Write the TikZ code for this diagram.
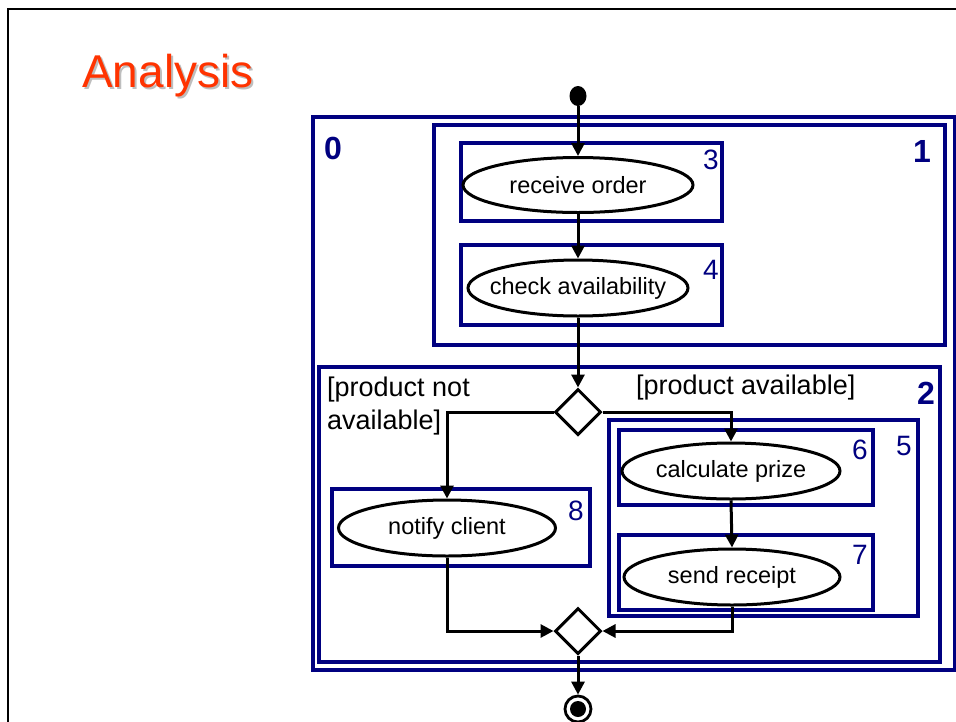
\documentclass[tikz,border=0pt]{standalone}
\usepackage{fontspec}
\setmainfont{Liberation Sans}
\usetikzlibrary{arrows.meta,shapes.geometric,calc}
\definecolor{navyb}{RGB}{0,0,128}
\definecolor{titlered}{RGB}{255,51,0}
\definecolor{shadowgray}{RGB}{190,190,190}
\tikzset{
  box/.style={draw=navyb, line width=3.2pt, rectangle, inner sep=0pt},
  act/.style={draw=black, line width=3pt, ellipse, inner sep=0pt, font=\fontsize{23.5}{27}\selectfont},
  num/.style={text=navyb, inner sep=0pt, font=\fontsize{28}{32}\selectfont},
  bnum/.style={text=navyb, inner sep=0pt, font=\bfseries\fontsize{32}{36}\selectfont},
  guard/.style={inner sep=0pt, font=\fontsize{27}{33}\selectfont, align=left},
  dec/.style={draw=black, line width=3pt, diamond, fill=white, minimum width=46pt, minimum height=46pt, inner sep=0pt},
  flow/.style={draw=black, line width=3pt, -{Triangle[length=13pt,width=13pt]}},
}
\newcommand{\actlabel}[1]{\makebox[0pt]{#1}}
\begin{document}
\begin{tikzpicture}[x=1pt,y=-1pt]
\useasboundingbox (0,0) rectangle (956,721);
\fill[white] (0,0) rectangle (956,721);
% slide frame
\draw[black, line width=2.8pt] (8,722) -- (8,9) -- (957,9);
% title with shadow
\node[anchor=base west, inner sep=0pt, text=titlered, font=\fontsize{46}{50}\selectfont] (title) at (82,87)
  {\rlap{\kern2pt\raisebox{-2pt}{\textcolor{shadowgray}{Analysis}}}Analysis};
% partition boxes
\node[box, minimum width=642pt, minimum height=553pt] (b0) at (634,393.5) {};
\node[box, minimum width=511pt, minimum height=220pt] (b1) at (689.5,235) {};
\node[box, minimum width=621pt, minimum height=295pt] (b2) at (629.5,514.5) {};
\node[box, minimum width=261pt, minimum height=78pt] (b3) at (591.5,182) {};
\node[box, minimum width=261pt, minimum height=80pt] (b4) at (591.5,285) {};
\node[box, minimum width=309pt, minimum height=196pt] (b5) at (763.5,518) {};
\node[box, minimum width=254pt, minimum height=75pt] (b6) at (746,467.5) {};
\node[box, minimum width=254pt, minimum height=75pt] (b7) at (746,572.5) {};
\node[box, minimum width=258pt, minimum height=77pt] (b8) at (461,527.5) {};
% partition numbers
\node[bnum] (n0) at (333,148) {0};
\node[bnum] (n1) at (922,151) {1};
\node[bnum] (n2) at (926,393) {2};
\node[num] (n3) at (711,160) {3};
\node[num] (n4) at (711,270) {4};
\node[num] (n5) at (904,446) {5};
\node[num] (n6) at (860,450) {6};
\node[num] (n7) at (860,555) {7};
\node[num] (n8) at (576,511) {8};
% activities
\node[act, minimum width=230pt, minimum height=55pt] (e3) at (578,185) {\actlabel{receive order}};
\node[act, minimum width=220pt, minimum height=56pt] (e4) at (578,288) {\actlabel{check availability}};
\node[act, minimum width=218pt, minimum height=56pt] (e6) at (731,471) {\actlabel{calculate prize}};
\node[act, minimum width=216pt, minimum height=56pt] (e7) at (732,577) {\actlabel{send receipt}};
\node[act, minimum width=217pt, minimum height=56pt] (e8) at (447,528) {\actlabel{notify client}};
% guards
\node[guard, anchor=north west] (g1) at (327,377) {[product not\\available]};
\node[guard, anchor=north west] (g2) at (636,375) {[product available]};
% start, decisions, end
\node[ellipse, fill=black, minimum width=17pt, minimum height=20pt, inner sep=0pt] (start) at (578,96) {};
\node[dec] (d1) at (578,412) {};
\node[dec] (d2) at (578,631) {};
\node[circle, draw=black, line width=2.8pt, minimum size=26pt, inner sep=0pt] (endo) at (578,709) {};
\node[circle, fill=black, minimum size=16pt, inner sep=0pt] (endi) at (578,709) {};
% flows
\draw[flow] (start) -- (e3.north);
\draw[flow] (e3.south) -- (e4.north);
\draw[flow] (e4.south) -- (d1.north);
\draw[flow] (d1.west) -| (e8.north);
\draw[flow] (d1.east) -| (e6.north);
\draw[flow] (e6.south) -- (e7.north);
\draw[flow] (e8.south) |- (d2.west);
\draw[flow] (e7.south) |- (d2.east);
\draw[flow] (d2.south) -- (endo.north);
\end{tikzpicture}
\end{document}
